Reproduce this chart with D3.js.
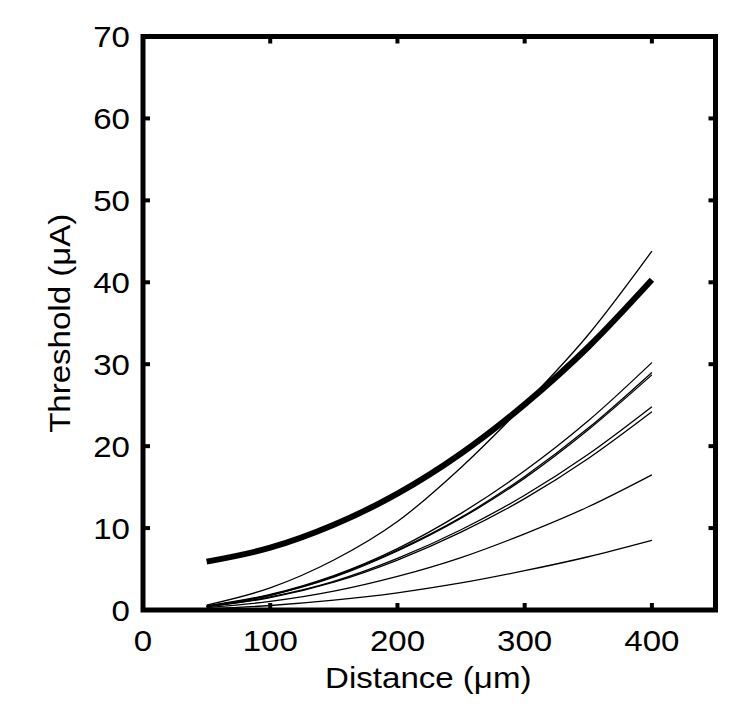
<!DOCTYPE html>
<html>
<head>
<meta charset="utf-8">
<script src="https://cdn.jsdelivr.net/npm/d3@7"></script>
<style>
  html, body { margin: 0; padding: 0; background: #fff; }
  svg { display: block; }
  text { font-family: "Liberation Sans", Arial, sans-serif; fill: #000; }
</style>
</head>
<body>
<svg id="chart" width="750" height="720"></svg>
<script>
// ---- data ----
const distances = [50, 100, 150, 200, 250, 300, 350, 400];
const thickSeries = [5.9, 7.6, 10.4, 14.2, 19.1, 25.1, 32.1, 40.3];
const thin1 = [0.6, 2.7, 6.1, 10.8, 17.4, 25.1, 33.6, 43.8];
const thin2 = [0.5, 1.9, 4.2, 7.5, 11.8, 17.0, 23.1, 30.2];
const thin3 = [0.45, 1.8, 4.1, 7.3, 11.3, 16.3, 22.2, 29.0];
const thin4 = [0.45, 1.8, 4.0, 7.2, 11.2, 16.1, 22.0, 28.7];
const thin5 = [0.4, 1.6, 3.5, 6.3, 9.8, 14.0, 19.0, 24.8];
const thin6 = [0.4, 1.5, 3.4, 6.1, 9.5, 13.6, 18.5, 24.2];
const thin7 = [0.3, 1.05, 2.3, 4.1, 6.4, 9.3, 12.6, 16.5];
const thin8 = [0.15, 0.55, 1.2, 2.1, 3.3, 4.8, 6.5, 8.5];
const thinSeries = [thin1, thin2, thin3, thin4, thin5, thin6, thin7, thin8];
const xTicks = [0, 100, 200, 300, 400];
const yTicks = [0, 10, 20, 30, 40, 50, 60, 70];
const xLabel = "Distance (\u03bcm)";
const yLabel = "Threshold (\u03bcA)";

(function () {
// ---- layout ----
const L = 143, R = 715.5, T = 36.5, B = 610;
const svg = d3.select("#chart");
const x = d3.scaleLinear().domain([0, 450]).range([L, R]);
const y = d3.scaleLinear().domain([0, 70]).range([B, T]);
const stretch = 1.14;

const line = d3.line()
  .x((d, i) => x(distances[i]))
  .y(d => y(d))
  .curve(d3.curveMonotoneX);

const plot = svg.append("g");
thinSeries.forEach(s => {
  plot.append("path").attr("d", line(s))
    .attr("fill", "none").attr("stroke", "#000").attr("stroke-width", 1.3);
});
plot.append("path").attr("d", line(thickSeries))
  .attr("fill", "none").attr("stroke", "#000").attr("stroke-width", 6);

// ticks (inward, on all four sides)
const tickLen = 5;
const tg = svg.append("g").attr("stroke", "#000").attr("stroke-width", 4);
xTicks.forEach(t => {
  tg.append("line").attr("x1", x(t)).attr("x2", x(t)).attr("y1", B).attr("y2", B - tickLen - 2);
  tg.append("line").attr("x1", x(t)).attr("x2", x(t)).attr("y1", T).attr("y2", T + tickLen + 2);
});
yTicks.forEach(t => {
  tg.append("line").attr("y1", y(t)).attr("y2", y(t)).attr("x1", L).attr("x2", L + tickLen + 2);
  tg.append("line").attr("y1", y(t)).attr("y2", y(t)).attr("x1", R).attr("x2", R - tickLen - 2);
});

// box
svg.append("rect")
  .attr("x", L).attr("y", T)
  .attr("width", R - L).attr("height", B - T)
  .attr("fill", "none").attr("stroke", "#000").attr("stroke-width", 5);

// tick labels
const fs = 29;
xTicks.forEach(t => {
  svg.append("text")
    .attr("transform", `translate(${x(t)},${650.5}) scale(${stretch},1)`)
    .attr("text-anchor", "middle").attr("font-size", fs).text(t);
});
yTicks.forEach(t => {
  svg.append("text")
    .attr("transform", `translate(${130},${y(t) + 10.5}) scale(${stretch},1)`)
    .attr("text-anchor", "end").attr("font-size", fs).text(t);
});

// axis titles
svg.append("text")
  .attr("transform", `translate(${(L + R) / 2 - 1},${688}) scale(${stretch},1)`)
  .attr("text-anchor", "middle").attr("font-size", fs).text(xLabel);
svg.append("text")
  .attr("transform", `translate(${70},${(T + B) / 2}) rotate(-90) scale(${stretch},1)`)
  .attr("text-anchor", "middle").attr("font-size", fs).text(yLabel);
})();
</script>
</body>
</html>
